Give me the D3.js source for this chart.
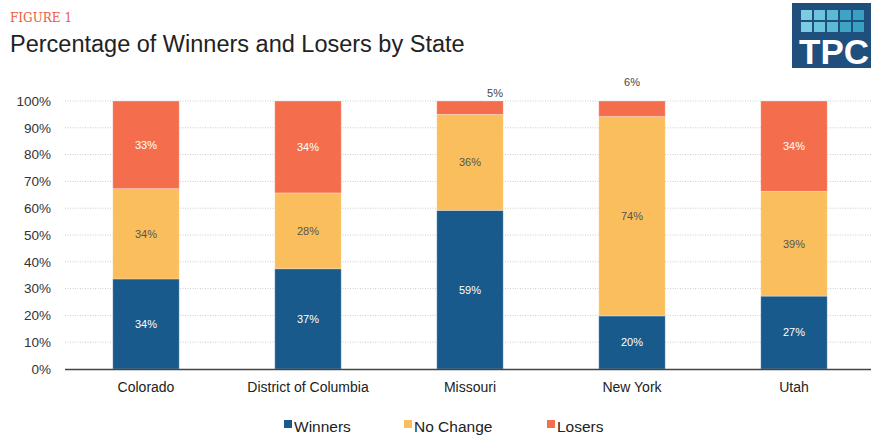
<!DOCTYPE html>
<html>
<head>
<meta charset="utf-8">
<script src="https://cdn.jsdelivr.net/npm/d3@7"></script>
<style>
  body { margin: 0; background: #fff; }
  svg { display: block; font-family: "Liberation Sans", Arial, sans-serif; }
</style>
</head>
<body>
<div id="chart"></div>
<script>
var states = ["Colorado", "District of Columbia", "Missouri", "New York", "Utah"];
var winners = [33.6, 37.4, 59.2, 19.8, 27.2];
var noChange = [33.7, 28.3, 35.8, 74.4, 39.1];
var losers = [32.7, 34.3, 5.0, 5.8, 33.7];
var seriesNames = ["Winners", "No Change", "Losers"];
var yTicks = [0, 10, 20, 30, 40, 50, 60, 70, 80, 90, 100];

var W = 871, H = 436;
var margin = {top: 101, right: -4, bottom: 67, left: 65},
    width = W - margin.left - margin.right,
    height = H - margin.top - margin.bottom;

var colors = {"Winners": "#185a8b", "No Change": "#fbbe5d", "Losers": "#f46e4e"};
var labelColors = {"Winners": "#fff", "No Change": "#555", "Losers": "#fff"};

var svg = d3.select("#chart")
  .append("svg")
    .attr("width", W)
    .attr("height", H);

// heading
svg.append("text")
  .attr("x", 10).attr("y", 22)
  .attr("font-family", "'DejaVu Serif', 'Liberation Serif', serif")
  .attr("font-size", 12)
  .attr("fill", "#ec5b43")
  .text("FIGURE 1");

svg.append("text")
  .attr("x", 10).attr("y", 52)
  .attr("font-size", 23.5)
  .attr("fill", "#222")
  .text("Percentage of Winners and Losers by State");

// TPC logo
var logo = svg.append("g").attr("transform", "translate(792,3)");
logo.append("rect").attr("width", 82).attr("height", 65).attr("fill", "#1e4f7d");
var sq = ["#7ccbe0", "#6cc3dc", "#5cbad6", "#3ea4c6", "#3aa0c2"];
[0, 1].forEach(function (r) {
  sq.forEach(function (c, i) {
    logo.append("rect")
      .attr("x", 9 + i * 13).attr("y", 7 + r * 12)
      .attr("width", 11).attr("height", 10)
      .attr("fill", c);
  });
});
logo.append("text")
  .attr("x", 7).attr("y", 61)
  .attr("font-size", 35).attr("font-weight", "bold")
  .attr("fill", "#fff")
  .text("TPC");

var g = svg.append("g")
  .attr("transform", "translate(" + margin.left + "," + margin.top + ")");

var x = d3.scaleBand()
  .domain(states)
  .range([0, 810])
  .paddingInner(0.59)
  .paddingOuter(0.295);

var y = d3.scaleLinear()
  .domain([0, 100])
  .range([height, 0]);

// gridlines
g.selectAll(".grid")
  .data(yTicks.slice(1))
  .enter().append("line")
    .attr("x1", 0).attr("x2", width)
    .attr("y1", function (d) { return y(d); })
    .attr("y2", function (d) { return y(d); })
    .attr("stroke", "#ccc")
    .attr("stroke-dasharray", "1,1.5");

// y axis labels
var yAxis = g.append("g")
  .call(d3.axisLeft(y).tickValues(yTicks).tickFormat(function (d) { return d + "%"; }).tickSize(0).tickPadding(14));
yAxis.select(".domain").remove();
yAxis.selectAll("text")
  .attr("font-family", "'Liberation Sans', Arial, sans-serif")
  .attr("font-size", 13.5)
  .attr("fill", "#333");

// stacked data
var rows = states.map(function (s, i) {
  return {state: s, "Winners": winners[i], "No Change": noChange[i], "Losers": losers[i]};
});
var stacked = d3.stack().keys(seriesNames)(rows);

var layers = g.selectAll(".layer")
  .data(stacked)
  .enter().append("g")
    .attr("fill", function (d) { return colors[d.key]; });

layers.selectAll("rect")
  .data(function (d) { return d; })
  .enter().append("rect")
    .attr("x", function (d) { return x(d.data.state); })
    .attr("y", function (d) { return y(d[1]); })
    .attr("width", x.bandwidth())
    .attr("height", function (d) { return y(d[0]) - y(d[1]); })
    .attr("stroke", "#fff")
    .attr("stroke-opacity", 0.35)
    .attr("stroke-width", 0.8);

// segment labels; small segments get their label above the bar
var outsideNudge = {"Missouri": [25, -8], "New York": [0, -19]};
stacked.forEach(function (layer) {
  layer.forEach(function (d) {
    var v = d.data[layer.key];
    var cx = x(d.data.state) + x.bandwidth() / 2;
    var cy = (y(d[0]) + y(d[1])) / 2;
    var fill = labelColors[layer.key];
    if (v < 10) {
      var n = outsideNudge[d.data.state] || [0, -8];
      cx += n[0];
      cy = y(d[1]) + n[1];
      fill = "#444";
    }
    g.append("text")
      .attr("x", cx).attr("y", cy)
      .attr("dy", "0.35em")
      .attr("text-anchor", "middle")
      .attr("font-size", 11)
      .attr("fill", fill)
      .text(Math.round(v) + "%");
  });
});

// x axis
var xAxis = g.append("g")
  .attr("transform", "translate(0," + height + ")")
  .call(d3.axisBottom(x).tickSize(0).tickPadding(13));
xAxis.select(".domain").remove();
xAxis.selectAll("text")
  .attr("font-family", "'Liberation Sans', Arial, sans-serif")
  .attr("font-size", 14)
  .attr("fill", "#222");
g.append("line")
  .attr("x1", 0).attr("x2", width)
  .attr("y1", height + 0.5).attr("y2", height + 0.5)
  .attr("stroke", "#444").attr("stroke-width", 1.3);

// legend
var legendX = [284, 404, 547];
var legend = svg.append("g");
seriesNames.forEach(function (name, i) {
  legend.append("rect")
    .attr("x", legendX[i]).attr("y", 420)
    .attr("width", 8).attr("height", 8)
    .attr("fill", colors[name]);
  legend.append("text")
    .attr("x", legendX[i] + 10).attr("y", 432)
    .attr("font-size", 15.5)
    .attr("fill", "#222")
    .text(name);
});
</script>
</body>
</html>
